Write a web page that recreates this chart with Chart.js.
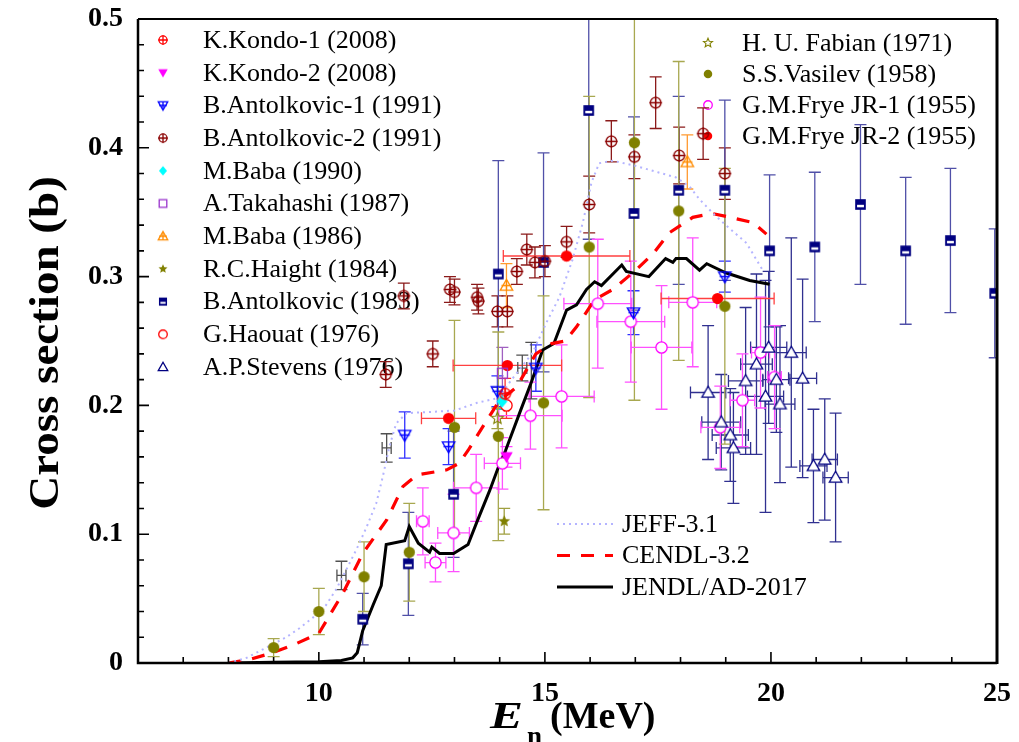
<!DOCTYPE html>
<html><head><meta charset="utf-8">
<script src="https://cdn.jsdelivr.net/npm/chart.js@4.4.0/dist/chart.umd.min.js"></script>
<style>html,body{margin:0;padding:0;background:#fff;}#wrap{width:1019px;height:742px;position:relative;}</style>
</head><body><div id="wrap"><canvas id="c" width="1019" height="742"></canvas></div>
<script>
// ---------- axis ----------
const X_MIN = 6, X_MAX = 25, Y_MIN = 0, Y_MAX = 0.5;
const xTickLabels = [10, 15, 20, 25];
const yTickLabels = [0, 0.1, 0.2, 0.3, 0.4, 0.5];

// ---------- experimental data: [E (MeV), sigma (b), d_sigma, d_E] ----------
const kondo1 = [[14.12, 0.209, 0.012, 0]];
const kondo2 = [[14.15, 0.160, 0.008, 0]];
const antolkovic1 = [[11.9, 0.177, 0.018, 0], [12.87, 0.168, 0.014, 0], [13.95, 0.211, 0.012, 0], [14.8, 0.229, 0.018, 0], [16.96, 0.272, 0.017, 0], [18.98, 0.300, 0.012, 0]];
const antolkovic2 = [[11.48, 0.224, 0.01, 0], [11.88, 0.285, 0.01, 0], [12.52, 0.240, 0.01, 0], [12.9, 0.290, 0.01, 0], [13.0, 0.288, 0.01, 0], [13.5, 0.284, 0.01, 0], [13.53, 0.281, 0.01, 0], [13.95, 0.273, 0.012, 0], [14.17, 0.273, 0.012, 0], [14.38, 0.304, 0.01, 0], [14.6, 0.321, 0.012, 0], [14.78, 0.311, 0.012, 0], [15.0, 0.312, 0.012, 0], [15.48, 0.327, 0.012, 0], [15.98, 0.356, 0.022, 0], [16.47, 0.405, 0.016, 0], [16.98, 0.393, 0.017, 0], [17.45, 0.435, 0.02, 0], [17.97, 0.394, 0.022, 0], [18.5, 0.411, 0.02, 0], [18.98, 0.380, 0.02, 0]];
const baba1990 = [[14.05, 0.203, 0.006, 0]];
const takahashi = [[14.06, 0.225, 0.02, 0]];
const baba1986 = [[14.15, 0.293, 0.017, 0], [18.15, 0.389, 0.021, 0]];
const haight = [[14.1, 0.110, 0.01, 0]];
const antolkovic1983 = [[10.97, 0.034, 0.02, 0], [11.98, 0.077, 0.04, 0], [12.98, 0.131, 0.049, 0], [13.97, 0.302, 0.088, 0], [14.97, 0.311, 0.085, 0], [15.97, 0.429, 0.1, 0], [16.97, 0.349, 0.075, 0], [17.96, 0.367, 0.073, 0], [18.98, 0.367, 0.07, 0], [19.97, 0.320, 0.059, 0], [20.97, 0.323, 0.058, 0], [21.98, 0.356, 0.062, 0], [22.98, 0.320, 0.057, 0], [23.97, 0.328, 0.056, 0], [24.95, 0.287, 0.05, 0]];
const haouat = [[14.15, 0.200, 0.01, 0.05]];
const stevens = [[18.61, 0.210, 0.052, 0.39], [18.9, 0.187, 0.037, 0.43], [19.1, 0.177, 0.036, 0.4], [19.17, 0.167, 0.043, 0.38], [19.44, 0.219, 0.057, 0.38], [19.68, 0.232, 0.07, 0.35], [19.88, 0.207, 0.09, 0.4], [19.95, 0.245, 0.059, 0.4], [20.12, 0.220, 0.041, 0.3], [20.2, 0.201, 0.061, 0.33], [20.45, 0.241, 0.089, 0.33], [20.7, 0.221, 0.077, 0.31], [20.94, 0.153, 0.044, 0.3], [21.19, 0.158, 0.047, 0.28], [21.43, 0.144, 0.05, 0.28]];
const fabian = [[13.95, 0.190, 0.008, 0]];
const vasilev = [[9.0, 0.012, 0.007, 0], [10.0, 0.040, 0.018, 0], [11.0, 0.067, 0.027, 0], [12.0, 0.086, 0.038, 0], [13.0, 0.183, 0.083, 0], [13.97, 0.176, 0.081, 0], [14.97, 0.202, 0.083, 0], [15.98, 0.323, 0.117, 0], [16.98, 0.404, 0.2, 0], [17.96, 0.351, 0.116, 0], [18.98, 0.277, 0.107, 0]];
const frye1 = [[12.3, 0.110, 0.026, 0.14], [12.58, 0.078, 0.015, 0.23], [12.98, 0.101, 0.03, 0.35], [13.48, 0.136, 0.026, 0.5], [14.06, 0.155, 0.02, 0.4], [14.68, 0.192, 0.026, 0.7], [15.37, 0.207, 0.04, 0.72], [16.17, 0.279, 0.05, 0.75], [16.9, 0.265, 0.047, 0.75], [17.58, 0.245, 0.048, 0.67], [18.27, 0.280, 0.05, 0.53], [18.88, 0.183, 0.032, 0.43], [19.37, 0.204, 0.036, 0.27], [19.77, 0.241, 0.043, 0.2], [20.08, 0.222, 0.04, 0.15]];
const frye2 = [[12.87, 0.190, 0, 0.6], [14.17, 0.231, 0, 1.2], [15.48, 0.316, 0, 1.4], [18.82, 0.283, 0, 1.25]];
const unlabeledBars = [[10.5, 0.068, 0.011, 0.1], [11.5, 0.167, 0.011, 0.1], [14.5, 0.229, 0.01, 0.1], [14.7, 0.227, 0.022, 0]];

// ---------- evaluated curves: [E, sigma] ----------
const jeff31 = [[8.0, 0], [8.4, 0.004], [8.84, 0.012], [9.28, 0.02], [9.57, 0.027], [9.86, 0.035], [10.16, 0.045], [10.38, 0.057], [10.6, 0.072], [10.83, 0.088], [11.05, 0.105], [11.27, 0.124], [11.41, 0.144], [11.56, 0.168], [11.71, 0.186], [11.94, 0.194], [12.5, 0.195], [13.0, 0.196], [13.5, 0.202], [14.0, 0.206], [14.2, 0.217], [14.73, 0.241], [15.03, 0.264], [15.32, 0.284], [15.61, 0.313], [15.84, 0.342], [16.03, 0.373], [16.2, 0.388], [16.5, 0.39], [17.0, 0.386], [17.5, 0.381], [17.9, 0.377], [18.2, 0.37], [18.42, 0.36], [18.75, 0.348], [19.0, 0.34], [19.46, 0.326], [19.8, 0.306]];
const cendl32 = [[8.0, 0], [8.5, 0.003], [8.98, 0.008], [9.5, 0.015], [10.0, 0.023], [10.53, 0.054], [10.97, 0.085], [11.5, 0.111], [11.86, 0.137], [12.17, 0.146], [12.83, 0.15], [13.1, 0.155], [13.3, 0.165], [13.6, 0.182], [14.0, 0.204], [14.37, 0.214], [14.8, 0.24], [15.15, 0.248], [15.45, 0.25], [15.7, 0.261], [16.1, 0.282], [16.5, 0.29], [16.98, 0.304], [17.4, 0.318], [17.75, 0.334], [18.27, 0.346], [18.7, 0.349], [19.1, 0.346], [19.6, 0.342], [19.9, 0.333]];
const jendlAD = [[8.0, 0], [9.0, 0.0005], [10.0, 0.001], [10.5, 0.002], [10.75, 0.004], [10.85, 0.008], [10.97, 0.025], [11.2, 0.045], [11.38, 0.06], [11.49, 0.092], [11.9, 0.095], [12.0, 0.106], [12.2, 0.093], [12.45, 0.086], [12.5, 0.09], [12.67, 0.085], [12.98, 0.085], [13.3, 0.092], [13.49, 0.109], [13.78, 0.134], [13.96, 0.151], [14.13, 0.165], [14.44, 0.194], [14.7, 0.218], [14.95, 0.243], [15.2, 0.248], [15.48, 0.274], [15.7, 0.278], [15.92, 0.29], [16.1, 0.296], [16.25, 0.293], [16.7, 0.309], [16.8, 0.304], [17.3, 0.3], [17.67, 0.314], [17.83, 0.311], [17.9, 0.314], [18.13, 0.314], [18.42, 0.305], [18.58, 0.31], [19.0, 0.303], [19.53, 0.297], [19.97, 0.294]];

// ---------- markers ----------
const FONT = '"Liberation Serif", "Times New Roman", serif';
function markerCanvas(kind, color, size) {
  const pad = 2, s = Math.ceil(size + pad * 2);
  const c = document.createElement('canvas'); c.width = s; c.height = s;
  const g = c.getContext('2d'); const cx = s / 2, cy = s / 2, r = size / 2;
  g.lineWidth = 1.3; g.strokeStyle = color; g.fillStyle = color;
  const tri = (down) => {
    g.beginPath();
    if (down) { g.moveTo(cx - r, cy - r * 0.75); g.lineTo(cx + r, cy - r * 0.75); g.lineTo(cx, cy + r); }
    else { g.moveTo(cx - r, cy + r * 0.75); g.lineTo(cx + r, cy + r * 0.75); g.lineTo(cx, cy - r); }
    g.closePath();
  };
  const plus = (k) => { g.beginPath(); g.moveTo(cx - r * k, cy); g.lineTo(cx + r * k, cy); g.moveTo(cx, cy - r * k); g.lineTo(cx, cy + r * k); g.stroke(); };
  const star = () => {
    g.beginPath();
    for (let i = 0; i < 10; i++) {
      const a = -Math.PI / 2 + i * Math.PI / 5, rr = i % 2 ? r * 0.45 : r;
      const px = cx + rr * Math.cos(a), py = cy + rr * Math.sin(a);
      i ? g.lineTo(px, py) : g.moveTo(px, py);
    }
    g.closePath();
  };
  switch (kind) {
    case 'oplus': g.beginPath(); g.arc(cx, cy, r * 0.85, 0, Math.PI * 2); g.stroke(); plus(1); break;
    case 'circleOpen': g.beginPath(); g.arc(cx, cy, r * 0.9, 0, Math.PI * 2); g.fillStyle = '#fff'; g.fill(); g.stroke(); break;
    case 'circleFill': g.beginPath(); g.arc(cx, cy, r * 0.9, 0, Math.PI * 2); g.fill(); break;
    case 'triDownFill': tri(true); g.fill(); break;
    case 'triDownPlus': tri(true); g.stroke(); plus(0.8); break;
    case 'triUpOpen': tri(false); g.fillStyle = '#fff'; g.fill(); g.stroke(); break;
    case 'triUpPlus': tri(false); g.stroke(); plus(0.8); break;
    case 'diamond': g.beginPath(); g.moveTo(cx, cy - r); g.lineTo(cx + r * 0.85, cy); g.lineTo(cx, cy + r); g.lineTo(cx - r * 0.85, cy); g.closePath(); g.fill(); break;
    case 'squareOpen': g.strokeRect(cx - r * 0.8, cy - r * 0.8, r * 1.6, r * 1.6); break;
    case 'squareHalf':
      g.fillRect(cx - r * 0.85, cy - r * 0.85, r * 1.7, r * 1.7);
      g.fillStyle = '#fff'; g.fillRect(cx - r * 0.55, cy + r * 0.05, r * 1.1, r * 0.4); break;
    case 'starFill': star(); g.fill(); break;
    case 'starOpen': star(); g.lineWidth = 1.1; g.stroke(); break;
  }
  return c;
}

// ---------- series styles ----------
const seriesDefs = [
  { label: 'K.Kondo-1 (2008)', rows: kondo1, kind: 'oplus', color: '#ff0000', err: '#ff3030', group: 'L' },
  { label: 'K.Kondo-2 (2008)', rows: kondo2, kind: 'triDownFill', color: '#ff00ff', err: '#ff40ff', group: 'L' },
  { label: 'B.Antolkovic-1 (1991)', rows: antolkovic1, kind: 'triDownPlus', color: '#0000ff', err: '#3030ff', group: 'L' },
  { label: 'B.Antolkovic-2 (1991)', rows: antolkovic2, kind: 'oplus', color: '#8b0000', err: '#8b1a1a', group: 'L' },
  { label: 'M.Baba (1990)', rows: baba1990, kind: 'diamond', color: '#00ffff', err: '#00e0e0', group: 'L' },
  { label: 'A.Takahashi (1987)', rows: takahashi, kind: 'squareOpen', color: '#9933cc', err: '#a060c0', group: 'L' },
  { label: 'M.Baba (1986)', rows: baba1986, kind: 'triUpPlus', color: '#ff8c00', err: '#ff9a30', group: 'L' },
  { label: 'R.C.Haight (1984)', rows: haight, kind: 'starFill', color: '#808000', err: '#a0a040', group: 'L' },
  { label: 'B.Antolkovic (1983)', rows: antolkovic1983, kind: 'squareHalf', color: '#000080', err: '#5050a8', group: 'L' },
  { label: 'G.Haouat (1976)', rows: haouat, kind: 'circleOpen', color: '#ff0000', err: '#ff3030', group: 'L' },
  { label: 'A.P.Stevens (1976)', rows: stevens, kind: 'triUpOpen', color: '#000080', err: '#303090', group: 'L' },
  { label: 'H. U. Fabian (1971)', rows: fabian, kind: 'starOpen', color: '#808000', err: '#a0a040', group: 'R' },
  { label: 'S.S.Vasilev (1958)', rows: vasilev, kind: 'circleFill', color: '#808000', err: '#a8a850', group: 'R' },
  { label: 'G.M.Frye JR-1 (1955)', rows: frye1, kind: 'circleOpen', color: '#ff00ff', err: '#ff50ff', group: 'R' },
  { label: 'G.M.Frye JR-2 (1955)', rows: frye2, kind: 'circleFill', color: '#ff0000', err: '#ff4040', group: 'R' }
];
const lineDefs = [
  { label: 'JEFF-3.1', pts: jeff31, color: '#b4b4ff', width: 2, dash: [2, 4] },
  { label: 'CENDL-3.2', pts: cendl32, color: '#ff0000', width: 3.2, dash: [13, 11] },
  { label: 'JENDL/AD-2017', pts: jendlAD, color: '#000000', width: 3, dash: [] }
];

const datasets = [];
seriesDefs.forEach(s => {
  s.mk = markerCanvas(s.kind, s.color, 12.5);
  s.lg = markerCanvas(s.kind, s.color, 9.5);
  datasets.push({
    label: s.label, data: s.rows.map(r => ({ x: r[0], y: r[1] })),
    pointStyle: s.mk, pointRadius: 5, showLine: false, order: 0,
    errRows: s.rows, errColor: s.err, capHalf: 6
  });
});
datasets.push({ label: '', data: unlabeledBars.map(r => ({ x: r[0], y: r[1] })), pointRadius: 0, showLine: false, order: 0, errRows: unlabeledBars, errColor: '#505050', capHalf: 6 });
lineDefs.forEach(l => {
  datasets.push({
    label: l.label, data: l.pts.map(p => ({ x: p[0], y: p[1] })), showLine: true, pointRadius: 0,
    borderColor: l.color, borderWidth: l.width, borderDash: l.dash, fill: false, tension: 0, order: 1
  });
});

// ---------- plugins ----------
const legendPlugin = {
  id: 'customLegend',
  beforeDatasetsDraw(chart) {
    const ctx = chart.ctx; ctx.save();
    ctx.font = '26px ' + FONT; ctx.fillStyle = '#000'; ctx.textBaseline = 'middle'; ctx.textAlign = 'left';
    let li = 0, ri = 0;
    seriesDefs.forEach(s => {
      let mx, tx, y;
      if (s.group === 'L') { mx = 163; tx = 203; y = 40 + 32.7 * li++; }
      else { mx = 708; tx = 742; y = 43 + 31 * ri++; }
      ctx.drawImage(s.lg, mx - s.lg.width / 2, y - s.lg.height / 2);
      ctx.fillText(s.label, tx, y + 1);
    });
    lineDefs.forEach((l, i) => {
      const y = 524 + 31.5 * i;
      ctx.save(); ctx.strokeStyle = l.color; ctx.lineWidth = l.width; ctx.setLineDash(l.dash);
      ctx.beginPath(); ctx.moveTo(557, y); ctx.lineTo(613, y); ctx.stroke(); ctx.restore();
      ctx.fillText(l.label, 622, y + 1);
    });
    ctx.restore();
  }
};
const errorBarPlugin = {
  id: 'errbars',
  beforeDatasetsDraw(chart) {
    const { ctx, chartArea: a } = chart; const xs = chart.scales.x, ys = chart.scales.y;
    ctx.save(); ctx.beginPath(); ctx.rect(a.left, a.top, a.right - a.left, a.bottom - a.top); ctx.clip();
    chart.data.datasets.forEach(ds => {
      if (!ds.errRows) return;
      ctx.strokeStyle = ds.errColor; ctx.lineWidth = 1.3;
      const cap = ds.capHalf;
      ds.errRows.forEach(r => {
        const px = xs.getPixelForValue(r[0]), py = ys.getPixelForValue(r[1]);
        ctx.beginPath();
        if (r[2] > 0) {
          const y1 = ys.getPixelForValue(r[1] - r[2]), y2 = ys.getPixelForValue(r[1] + r[2]);
          ctx.moveTo(px, y1); ctx.lineTo(px, y2);
          ctx.moveTo(px - cap, y1); ctx.lineTo(px + cap, y1);
          ctx.moveTo(px - cap, y2); ctx.lineTo(px + cap, y2);
        }
        if (r[3] > 0) {
          const x1 = xs.getPixelForValue(r[0] - r[3]), x2 = xs.getPixelForValue(r[0] + r[3]);
          ctx.moveTo(x1, py); ctx.lineTo(x2, py);
          ctx.moveTo(x1, py - cap); ctx.lineTo(x1, py + cap);
          ctx.moveTo(x2, py - cap); ctx.lineTo(x2, py + cap);
        }
        ctx.stroke();
      });
    });
    ctx.restore();
  }
};
const framePlugin = {
  id: 'frame',
  afterDraw(chart) {
    const { ctx, chartArea: a } = chart; const xs = chart.scales.x, ys = chart.scales.y;
    ctx.save(); ctx.strokeStyle = '#000';
    // ticks (inside)
    ctx.lineWidth = 1.6; ctx.beginPath();
    for (let e = 7; e <= 24; e++) {
      const px = xs.getPixelForValue(e), len = (e % 5 === 0) ? 11 : 6;
      ctx.moveTo(px, a.bottom); ctx.lineTo(px, a.bottom - len);
    }
    for (let k = 1; k < 25; k++) {
      const v = k * 0.02, py = ys.getPixelForValue(v), len = (k % 5 === 0) ? 11 : 6;
      ctx.moveTo(a.left, py); ctx.lineTo(a.left + len, py);
    }
    ctx.stroke();
    // frame
    ctx.lineWidth = 2.5; ctx.beginPath();
    ctx.moveTo(a.left, a.top); ctx.lineTo(a.left, a.bottom); ctx.lineTo(a.right, a.bottom); ctx.stroke();
    ctx.lineWidth = 2; ctx.beginPath(); ctx.moveTo(a.left, a.top); ctx.lineTo(a.right, a.top); ctx.stroke();
    ctx.lineWidth = 3; ctx.beginPath(); ctx.moveTo(a.right, a.top); ctx.lineTo(a.right, a.bottom + 1); ctx.stroke();
    // axis titles
    ctx.fillStyle = '#000';
    ctx.save(); ctx.translate(47, 343); ctx.rotate(-Math.PI / 2); ctx.scale(1.12, 1);
    ctx.font = 'bold 42px ' + FONT; ctx.textAlign = 'center'; ctx.textBaseline = 'middle';
    ctx.fillText('Cross section (b)', 0, 0); ctx.restore();
    ctx.textBaseline = 'alphabetic'; ctx.textAlign = 'left';
    ctx.save(); ctx.translate(490, 728); ctx.scale(1.3, 1);
    ctx.font = 'italic bold 38px ' + FONT; ctx.fillText('E', 0, 0); ctx.restore();
    ctx.font = 'bold 27px ' + FONT; ctx.fillText('n', 527, 745);
    ctx.font = 'bold 38px ' + FONT; ctx.fillText('(MeV)', 550, 728);
    ctx.restore();
  }
};

const zeroPad = s => { s.paddingLeft = 0; s.paddingRight = 0; s.paddingTop = 0; s.paddingBottom = 0; };

new Chart(document.getElementById('c'), {
  type: 'scatter',
  data: { datasets },
  options: {
    responsive: false, animation: false, devicePixelRatio: 1,
    layout: { padding: { left: 0, right: 22, top: 19, bottom: 0 } },
    plugins: { legend: { display: false }, tooltip: { enabled: false } },
    scales: {
      x: {
        type: 'linear', min: X_MIN, max: X_MAX,
        grid: { display: false, drawTicks: false }, border: { display: false },
        afterBuildTicks: s => { s.ticks = xTickLabels.map(v => ({ value: v })); },
        afterFit: s => { s.height = 79; zeroPad(s); },
        ticks: { autoSkip: false, maxRotation: 0, padding: 14, color: '#000', font: { family: FONT, size: 28, weight: 'bold' }, callback: v => String(v) }
      },
      y: {
        type: 'linear', min: Y_MIN, max: Y_MAX,
        grid: { display: false, drawTicks: false }, border: { display: false },
        afterBuildTicks: s => { s.ticks = yTickLabels.map(v => ({ value: v })); },
        afterFit: s => { s.width = 138; zeroPad(s); },
        ticks: { autoSkip: false, padding: 15, color: '#000', font: { family: FONT, size: 28, weight: 'bold' }, callback: v => (v === 0 ? '0' : Number(v).toFixed(1)) }
      }
    }
  },
  plugins: [legendPlugin, errorBarPlugin, framePlugin]
});
</script></body></html>
